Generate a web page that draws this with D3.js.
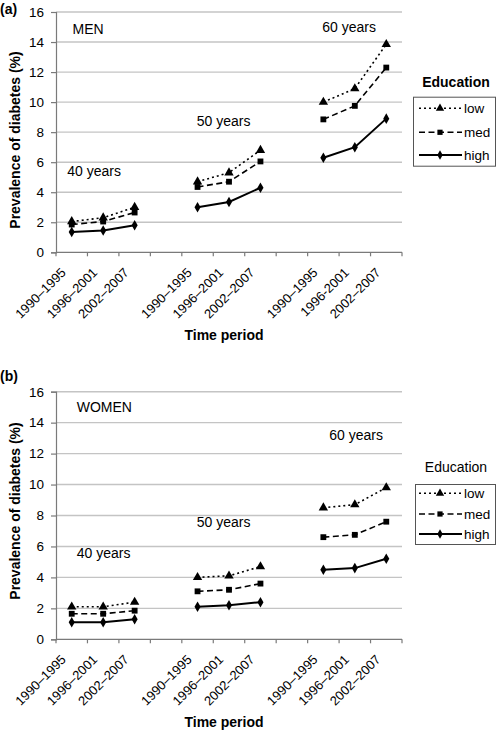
<!DOCTYPE html>
<html><head><meta charset="utf-8">
<script src="https://cdn.jsdelivr.net/npm/d3@7"></script>
<style>body{margin:0;background:#fff;} svg{display:block;font-family:"Liberation Sans",Arial,sans-serif;}</style>
</head><body>
<svg id="chart" width="496" height="730"></svg>
<script>
// ---- data ----
const periods = ["1990\u20131995", "1996\u20132001", "2002\u20132007"];
const ageGroups = ["40 years", "50 years", "60 years"];
const educationLevels = ["low", "med", "high"];
const yTicks = [0, 2, 4, 6, 8, 10, 12, 14, 16];
const tickLabelsA = ["1990\u20131995","1996\u20132001","2002\u20132007","","1990\u20131995","1996\u20132001","2002\u20132007","","1990\u20131995","1996-2001","2002\u20132007"];
const tickLabelsB = ["1990\u20131995","1996\u20132001","2002\u20132007","","1990\u20131995","1996\u20132001","2002\u20132007","","1990\u20131995","1996\u20132001","2002\u20132007"];
// men: [age][period]
const menLow  = [[2.05, 2.3, 3.0], [4.7, 5.3, 6.8], [10.0, 10.9, 13.85]];
const menMed  = [[1.85, 2.05, 2.65], [4.35, 4.7, 6.05], [8.85, 9.75, 12.3]];
const menHigh = [[1.35, 1.45, 1.8], [3.0, 3.35, 4.3], [6.3, 7.0, 8.9]];
// women
const womenLow  = [[2.1, 2.1, 2.4], [4.0, 4.1, 4.7], [8.5, 8.7, 9.8]];
const womenMed  = [[1.65, 1.65, 1.85], [3.1, 3.2, 3.6], [6.6, 6.75, 7.6]];
const womenHigh = [[1.1, 1.1, 1.3], [2.1, 2.2, 2.4], [4.5, 4.6, 5.2]];

const svg = d3.select("#chart");
const styles = {
  low:  {dash: "2,3", width: 1.6, marker: d3.symbolTriangle, size: 38},
  med:  {dash: "6,3.5", width: 1.6, marker: d3.symbolSquare, size: 34},
  high: {dash: null, width: 2, marker: d3.symbolDiamond, size: 32}
};

function panel(cfg) {
  const g = svg.append("g");
  const slots = d3.range(11);
  const x = d3.scaleBand().domain(slots).range([56, 402]).paddingInner(0).paddingOuter(0);
  const y = d3.scaleLinear().domain([0, 16]).range([cfg.y0, cfg.y16]);

  // gridlines
  g.append("g").selectAll("line").data(yTicks.filter(d => d > 0)).join("line")
    .attr("x1", 56).attr("x2", 402).attr("y1", d => y(d)).attr("y2", d => y(d))
    .attr("stroke", "#c4c4c4").attr("stroke-width", 1.4);

  // y axis
  const ya = g.append("g").attr("transform", "translate(56,0)")
    .call(d3.axisLeft(y).tickValues(yTicks).tickSize(5).tickPadding(7));
  ya.select(".domain").attr("stroke", "#7a7a7a").attr("stroke-width", 1.2);
  ya.selectAll(".tick line").attr("stroke", "#7a7a7a").attr("stroke-width", 1.2);
  ya.selectAll(".tick text").attr("font-size", 13.5).attr("fill", "#000").attr("font-family", null);

  // x axis
  const xa = g.append("g").attr("transform", `translate(0,${cfg.y0})`);
  xa.append("line").attr("x1", 56).attr("x2", 402).attr("stroke", "#7a7a7a").attr("stroke-width", 1.2);
  const bounds = d3.range(12).map(i => 56 + i * x.bandwidth());
  xa.selectAll(".tk").data(bounds).join("line").attr("class", "tk")
    .attr("x1", d => d).attr("x2", d => d).attr("y1", 0).attr("y2", 4)
    .attr("stroke", "#7a7a7a").attr("stroke-width", 1.2);
  xa.selectAll(".lbl").data(slots.filter(i => cfg.tickLabels[i] !== "")).join("text").attr("class", "lbl")
    .attr("transform", i => `translate(${x(i) + x.bandwidth() / 2 - 5},${21}) rotate(-45)`)
    .attr("text-anchor", "end").attr("font-size", 13).text(i => cfg.tickLabels[i]);

  // series
  const series = {low: cfg.low, med: cfg.med, high: cfg.high};
  const slotIndex = (a, p) => a * 4 + p;
  educationLevels.forEach(lev => {
    const st = styles[lev];
    series[lev].forEach((vals, a) => {
      const pts = vals.map((v, p) => [x(slotIndex(a, p)) + x.bandwidth() / 2, y(v)]);
      g.append("path").attr("d", d3.line()(pts)).attr("fill", "none").attr("stroke", "#000")
        .attr("stroke-width", st.width).attr("stroke-dasharray", st.dash);
      g.selectAll(null).data(pts).join("path")
        .attr("transform", d => `translate(${d[0]},${d[1]})`)
        .attr("d", d3.symbol().type(st.marker).size(st.size)).attr("fill", "#000");
    });
  });

  // annotations
  cfg.annotations.forEach(a => {
    g.append("text").attr("x", a.x).attr("y", a.y).attr("font-size", 14).text(a.t);
  });

  // panel letter
  g.append("text").attr("x", 0).attr("y", cfg.letterY).attr("font-size", 14).attr("font-weight", "bold").text(cfg.letter);

  // y title
  g.append("text").attr("transform", `translate(20,${cfg.yTitleC}) rotate(-90)`).attr("text-anchor", "middle")
    .attr("font-size", 14).attr("font-weight", "bold").text("Prevalence of diabetes (%)");

  // x title
  g.append("text").attr("x", 224).attr("y", cfg.xTitleY).attr("text-anchor", "middle")
    .attr("font-size", 14).attr("font-weight", "bold").text("Time period");

  // legend
  const L = cfg.legend;
  g.append("text").attr("x", 456).attr("y", L.titleY).attr("text-anchor", "middle").attr("font-size", 14)
    .attr("font-weight", L.bold ? "bold" : "normal").text("Education");
  g.append("rect").attr("x", L.x0 + 0.5).attr("y", L.y0 + 0.5).attr("width", L.x1 - L.x0 - 1).attr("height", L.y1 - L.y0)
    .attr("fill", "none").attr("stroke", "#555").attr("stroke-width", 1);
  educationLevels.forEach((lev, i) => {
    const st = styles[lev];
    const yy = L.rows[i];
    g.append("line").attr("x1", 419).attr("x2", 462).attr("y1", yy).attr("y2", yy)
      .attr("stroke", "#000").attr("stroke-width", st.width).attr("stroke-dasharray", st.dash);
    g.append("path").attr("transform", `translate(440,${yy})`)
      .attr("d", d3.symbol().type(st.marker).size(st.size * 0.8)).attr("fill", "#000");
    g.append("text").attr("x", 464).attr("y", yy + 5).attr("font-size", 13.5).text(lev);
  });
}

panel({
  y0: 252.3, y16: 12, letter: "(a)", letterY: 14, yTitleC: 140, xTitleY: 340,
  tickLabels: tickLabelsA, low: menLow, med: menMed, high: menHigh,
  annotations: [{t: "MEN", x: 72.5, y: 34.3}, {t: ageGroups[0], x: 67.3, y: 176}, {t: ageGroups[1], x: 196.7, y: 126.3}, {t: ageGroups[2], x: 322.3, y: 31.6}],
  legend: {bold: true, titleY: 87.3, x0: 413, x1: 496, y0: 96.7, y1: 165.7, rows: [108.3, 132.3, 155]}
});
panel({
  y0: 639.3, y16: 391.7, letter: "(b)", letterY: 381, yTitleC: 511, xTitleY: 727,
  tickLabels: tickLabelsB, low: womenLow, med: womenMed, high: womenHigh,
  annotations: [{t: "WOMEN", x: 76.7, y: 411.6}, {t: ageGroups[0], x: 76.7, y: 558.3}, {t: ageGroups[1], x: 196.7, y: 526.6}, {t: ageGroups[2], x: 329.3, y: 440}],
  legend: {bold: false, titleY: 471.7, x0: 415, x1: 496, y0: 484, y1: 544, rows: [493.3, 514, 534]}
});
</script>
</body></html>
